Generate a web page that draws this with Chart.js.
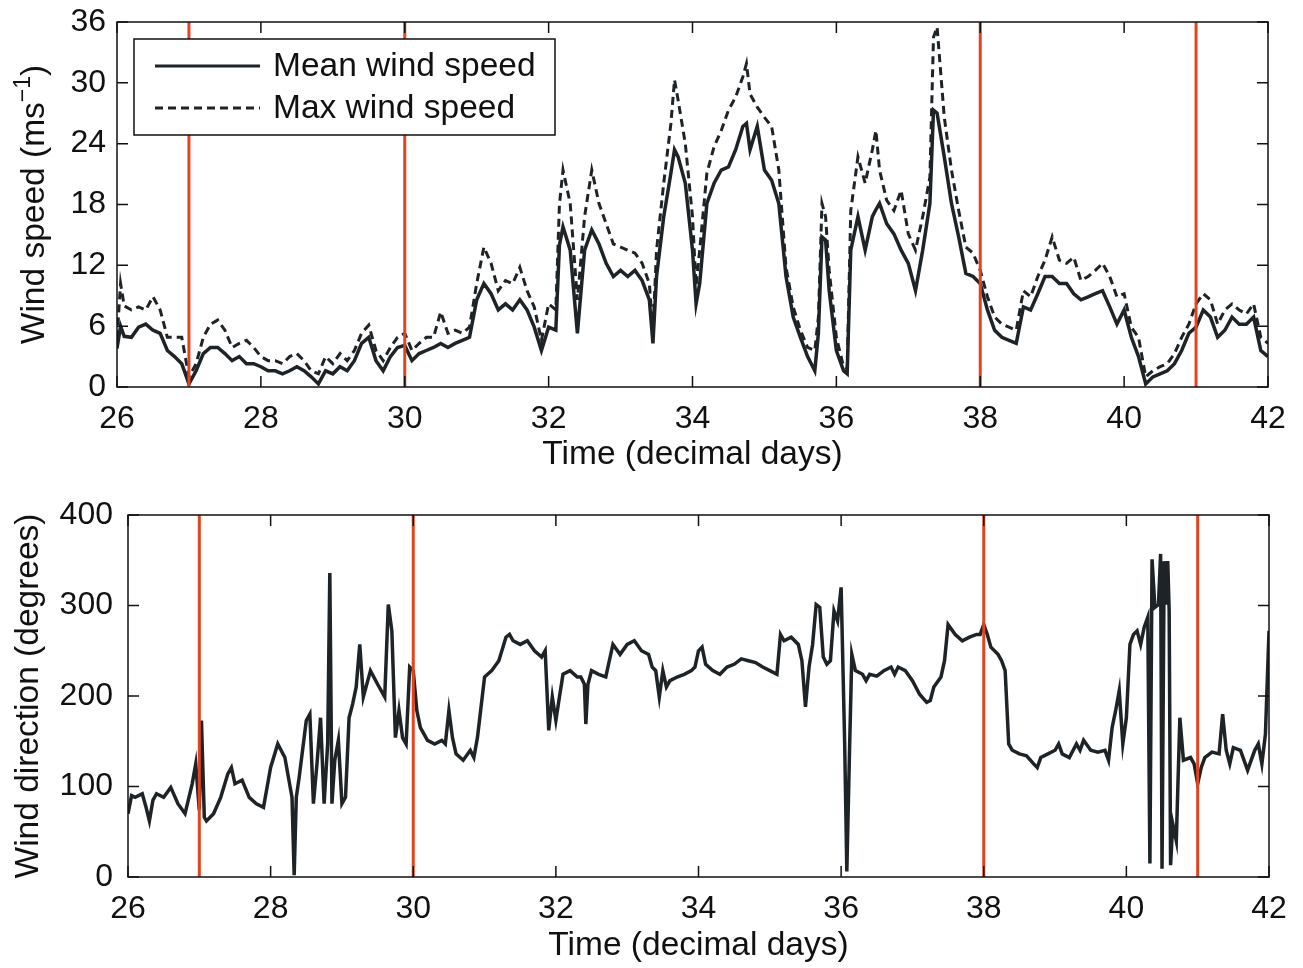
<!DOCTYPE html>
<html>
<head>
<meta charset="utf-8">
<title>Wind speed and direction</title>
<script src="https://cdn.jsdelivr.net/npm/chart.js@4.4.1/dist/chart.umd.min.js"></script>
<style>
  html, body { margin: 0; padding: 0; background: #fff; }
  canvas { display: block; }
</style>
</head>
<body>
<canvas id="speed-chart" width="1303" height="484"></canvas>
<canvas id="dir-chart" width="1303" height="484"></canvas>
<script>
// ---- data (time in decimal days) ----
const speedDays = [
  26.00, 26.05, 26.10, 26.20, 26.30, 26.40, 26.50, 26.60, 26.70, 26.80, 26.90,
  27.00, 27.10, 27.20, 27.30, 27.40, 27.50, 27.60, 27.70, 27.80, 27.90,
  28.00, 28.10, 28.20, 28.30, 28.40, 28.50, 28.60, 28.70, 28.80, 28.90,
  29.00, 29.10, 29.20, 29.30, 29.40, 29.50, 29.60, 29.70, 29.80, 29.90,
  30.00, 30.10, 30.20, 30.30, 30.40, 30.50, 30.60, 30.70, 30.80, 30.90,
  31.00, 31.10, 31.20, 31.30, 31.40, 31.50, 31.60, 31.70, 31.80, 31.90,
  32.00, 32.10, 32.15, 32.20, 32.30, 32.40, 32.50, 32.60, 32.70, 32.80, 32.90,
  33.00, 33.10, 33.20, 33.30, 33.40, 33.45, 33.50, 33.60, 33.70, 33.75, 33.80, 33.90,
  34.00, 34.05, 34.10, 34.20, 34.30, 34.40, 34.50, 34.60, 34.70, 34.75, 34.80, 34.90,
  35.00, 35.10, 35.20, 35.30, 35.40, 35.50, 35.60, 35.70, 35.75, 35.80, 35.85, 35.90,
  36.00, 36.10, 36.15, 36.20, 36.30, 36.40, 36.50, 36.55, 36.60, 36.70, 36.80, 36.90,
  37.00, 37.10, 37.20, 37.30, 37.35, 37.40, 37.50, 37.60, 37.70, 37.80, 37.90,
  38.00, 38.10, 38.20, 38.30, 38.40, 38.50, 38.60, 38.70, 38.80, 38.90,
  39.00, 39.10, 39.20, 39.30, 39.40, 39.50, 39.60, 39.70, 39.80, 39.90,
  40.00, 40.10, 40.20, 40.30, 40.40, 40.50, 40.60, 40.70, 40.80, 40.90,
  41.00, 41.10, 41.20, 41.30, 41.40, 41.50, 41.60, 41.70, 41.80, 41.90, 42.00
];
const meanSpeed = [
  3.8, 6.0, 5.0, 4.9, 5.9, 6.2, 5.6, 5.3, 3.6, 3.0, 2.3,
  0.3, 1.6, 3.3, 3.9, 3.9, 3.3, 2.6, 3.0, 2.3, 2.3,
  2.0, 1.6, 1.6, 1.3, 1.6, 2.0, 1.6, 1.0, 0.3, 1.6,
  1.3, 2.0, 1.6, 2.6, 4.3, 4.9, 2.6, 1.6, 3.0, 3.9,
  4.1, 2.6, 3.3, 3.6, 3.9, 4.3, 3.9, 4.3, 4.6, 4.9,
  8.6, 10.2, 9.2, 7.6, 8.2, 7.6, 8.6, 7.6, 5.9, 3.6,
  5.9, 5.6, 14.0, 15.8, 13.5, 5.3, 13.5, 15.5, 14.1, 12.2, 10.9,
  11.5, 10.9, 11.5, 10.5, 8.6, 4.3, 10.9, 16.8, 21.1, 23.4, 22.7, 20.1,
  13.5, 8.2, 10.2, 18.1, 20.1, 21.4, 21.7, 23.4, 25.7, 26.0, 23.4, 25.7,
  21.4, 20.4, 18.1, 10.9, 6.9, 4.9, 3.0, 1.6, 5.3, 14.8, 14.5, 9.5,
  3.6, 1.6, 1.3, 13.5, 16.8, 13.5, 16.8, 17.5, 18.1, 16.1, 15.1, 13.5,
  12.2, 9.5, 13.5, 18.1, 27.3, 27.0, 22.7, 18.1, 14.8, 11.2, 10.9,
  10.2, 7.6, 5.6, 4.9, 4.6, 4.3, 7.9, 7.6, 9.2, 10.9,
  10.9, 10.2, 10.2, 9.2, 8.6, 8.9, 9.2, 9.5, 7.9, 6.2,
  7.6, 4.9, 3.0, 0.3, 1.0, 1.3, 1.6, 2.3, 3.6, 5.3,
  5.9, 7.6, 6.9, 4.9, 5.6, 6.9, 6.2, 6.2, 6.9, 3.6, 3.0
];
const maxSpeed = [
  4.8, 10.2, 8.0, 7.6, 7.9, 7.6, 8.9, 7.6, 4.9, 4.9, 4.9,
  1.0, 2.3, 4.9, 6.2, 6.6, 5.6, 3.9, 4.3, 4.6, 3.9,
  3.0, 2.6, 2.6, 2.3, 3.0, 3.3, 2.6, 1.6, 1.3, 3.0,
  2.3, 3.3, 2.6, 3.6, 5.3, 6.1, 3.6, 2.6, 3.9, 4.9,
  5.3, 3.6, 4.3, 4.9, 4.9, 7.4, 5.3, 5.6, 5.3, 5.9,
  10.2, 13.8, 12.2, 9.5, 10.5, 10.2, 11.8, 9.5, 7.9, 4.6,
  8.2, 7.6, 18.0, 21.4, 18.1, 8.6, 16.8, 21.4, 18.1, 16.1, 14.1,
  13.8, 13.5, 13.2, 12.2, 10.2, 5.5, 13.5, 20.1, 26.0, 30.3, 28.3, 24.0,
  16.8, 10.0, 13.5, 21.1, 23.7, 25.3, 27.3, 28.6, 30.6, 31.9, 28.9, 27.6,
  26.6, 25.7, 21.4, 11.8, 7.9, 5.6, 3.9, 3.6, 6.9, 18.1, 16.8, 11.5,
  4.9, 2.0, 1.8, 17.4, 22.7, 20.1, 23.4, 25.3, 21.4, 18.4, 17.4, 19.4,
  15.1, 13.5, 16.8, 20.7, 34.5, 35.5, 26.6, 21.4, 17.4, 13.8, 13.2,
  11.5, 8.9, 6.9, 6.2, 5.9, 5.6, 9.5, 8.9, 10.9, 12.5,
  14.8, 12.5, 12.2, 12.8, 10.5, 10.9, 11.5, 12.2, 10.9, 8.9,
  9.2, 5.9, 4.9, 1.0, 1.6, 2.0, 2.3, 3.3, 4.9, 6.2,
  8.2, 9.2, 8.6, 6.2, 7.6, 8.2, 7.6, 7.2, 8.2, 4.9, 4.3
];

const dirDays = [
  26.00, 26.05, 26.10, 26.20, 26.25, 26.30, 26.35, 26.40, 26.50, 26.60, 26.70, 26.80, 26.90, 26.95,
  27.00, 27.03, 27.07, 27.10, 27.20, 27.30, 27.40, 27.45, 27.50, 27.60, 27.70, 27.80, 27.90,
  28.00, 28.10, 28.20, 28.25, 28.30, 28.33, 28.36, 28.40, 28.50, 28.55, 28.60, 28.65, 28.70,
  28.75, 28.80, 28.83, 28.86, 28.90, 28.95,
  29.00, 29.05, 29.10, 29.15, 29.20, 29.25, 29.30, 29.40, 29.50, 29.60, 29.65, 29.70, 29.75,
  29.80, 29.85, 29.90, 29.95,
  30.00, 30.05, 30.10, 30.20, 30.30, 30.40, 30.45, 30.50, 30.55, 30.60, 30.70, 30.80, 30.85, 30.90,
  31.00, 31.10, 31.20, 31.30, 31.35, 31.40, 31.50, 31.60, 31.70, 31.80, 31.85, 31.90, 31.95,
  32.00, 32.05, 32.10, 32.20, 32.30, 32.35, 32.40, 32.42, 32.45, 32.50, 32.60, 32.70, 32.80, 32.90,
  33.00, 33.10, 33.20, 33.30, 33.35, 33.40, 33.45, 33.50, 33.55, 33.60, 33.70, 33.80, 33.90, 33.95,
  34.00, 34.05, 34.10, 34.20, 34.30, 34.40, 34.50, 34.60, 34.70, 34.80, 34.90,
  35.00, 35.10, 35.15, 35.20, 35.30, 35.40, 35.45, 35.50, 35.55, 35.60, 35.65, 35.70, 35.75,
  35.80, 35.85, 35.90, 35.95,
  36.00, 36.05, 36.08, 36.12, 36.15, 36.20, 36.30, 36.35, 36.40, 36.50, 36.60, 36.70, 36.75,
  36.80, 36.90,
  37.00, 37.10, 37.20, 37.25, 37.30, 37.40, 37.45, 37.50, 37.60, 37.70, 37.80, 37.90, 37.95,
  38.00, 38.05, 38.10, 38.20, 38.25, 38.30, 38.35, 38.40, 38.50, 38.60, 38.70, 38.75, 38.80, 38.90,
  39.00, 39.05, 39.10, 39.20, 39.30, 39.35, 39.40, 39.50, 39.60, 39.70, 39.75, 39.80, 39.85,
  39.90, 39.95,
  40.00, 40.05, 40.10, 40.15, 40.20, 40.25, 40.30, 40.33, 40.36, 40.40, 40.45, 40.48, 40.50,
  40.53, 40.55, 40.58, 40.60, 40.62, 40.65, 40.70, 40.75, 40.80, 40.90, 40.95,
  41.00, 41.05, 41.10, 41.20, 41.30, 41.35, 41.40, 41.45, 41.50, 41.60, 41.70, 41.80, 41.85,
  41.90, 41.95, 42.00
];
const windDir = [
  70, 90, 88, 92, 78, 62, 85, 92, 88, 99, 81, 70, 103, 125,
  74, 173, 66, 62, 70, 88, 114, 121, 103, 107, 88, 81, 77,
  121, 147, 132, 110, 88, 2, 88, 110, 173, 180, 81, 125, 176,
  81, 147, 336, 81, 129, 151,
  81, 88, 176, 191, 210, 257, 199, 228, 213, 199, 301, 272, 154,
  184, 154, 147, 232,
  228, 184, 165, 151, 147, 151, 147, 184, 154, 136, 129, 140, 132, 154,
  221, 228, 239, 265, 268, 261, 257, 261, 250, 243, 250, 162, 199,
  173, 199, 224, 228, 221, 221, 213, 169, 213, 228, 224, 221, 257, 246,
  257, 261, 250, 246, 232, 228, 199, 228, 210, 217, 221, 224, 228, 232,
  250, 254, 235, 228, 224, 232, 235, 241, 239, 237, 232,
  228, 224, 268, 261, 265, 257, 239, 188, 232, 257, 301, 298, 243,
  235, 239, 294, 283,
  320, 147, 6, 147, 246, 228, 224, 217, 224, 222, 228, 232, 224,
  232, 228,
  217, 202, 193, 195, 210, 221, 239, 279, 268, 261, 265, 268, 268,
  279, 268, 254, 246, 239, 228, 147, 140, 136, 134, 125, 121, 132, 136,
  140, 147, 136, 132, 147, 140, 151, 140, 138, 140, 129, 165, 184,
  206, 147,
  176, 257, 268, 272, 257, 276, 287, 15, 351, 298, 301, 357, 9,
  349, 301, 349, 294, 13, 59, 40, 176, 129, 132, 125,
  103, 121, 132, 138, 136, 180, 140, 125, 143, 140, 118, 140, 147,
  125, 158, 272
];

// days marked with vertical red lines
const eventDays = [27, 30, 38, 41];

const FONT = '"Liberation Sans", Arial, Helvetica, sans-serif';
const INK = '#1d2326';
const EVENT_RED = '#e4431f';

const toPoints = (xs, ys) => xs.map((x, i) => ({ x: x, y: ys[i] }));

// vertical event markers, axis box with inward ticks, axis titles and legend
const decorPlugin = {
  id: 'decor',
  afterDatasetsDraw(chart) {
    const { ctx, chartArea, scales } = chart;
    ctx.save();
    ctx.strokeStyle = EVENT_RED;
    ctx.lineWidth = 3;
    eventDays.forEach((d) => {
      const px = scales.x.getPixelForValue(d);
      ctx.beginPath();
      ctx.moveTo(px, chartArea.top);
      ctx.lineTo(px, chartArea.bottom);
      ctx.stroke();
    });
    ctx.restore();
  },
  afterDraw(chart, args, opts) {
    const { ctx, chartArea: a, scales } = chart;
    const tickLen = 11;
    ctx.save();
    ctx.strokeStyle = '#111';
    ctx.lineWidth = 1.5;
    ctx.strokeRect(a.left, a.top, a.right - a.left, a.bottom - a.top);
    ctx.beginPath();
    scales.x.ticks.forEach((t) => {
      const px = scales.x.getPixelForValue(t.value);
      ctx.moveTo(px, a.bottom); ctx.lineTo(px, a.bottom - tickLen);
      ctx.moveTo(px, a.top); ctx.lineTo(px, a.top + tickLen);
    });
    scales.y.ticks.forEach((t) => {
      const py = scales.y.getPixelForValue(t.value);
      ctx.moveTo(a.left, py); ctx.lineTo(a.left + tickLen, py);
      ctx.moveTo(a.right, py); ctx.lineTo(a.right - tickLen, py);
    });
    ctx.stroke();

    // axis titles
    ctx.fillStyle = '#111';
    ctx.font = '33.5px ' + FONT;
    ctx.textAlign = 'center';
    ctx.textBaseline = 'alphabetic';
    ctx.fillText(opts.xTitle, (a.left + a.right) / 2, a.bottom + opts.xTitleOffset);

    ctx.translate(a.left - opts.yTitleOffset, (a.top + a.bottom) / 2);
    ctx.rotate(-Math.PI / 2);
    const supFont = '23px ' + FONT;
    ctx.font = '33.5px ' + FONT;
    const w1 = ctx.measureText(opts.yTitle).width;
    const w3 = opts.yTitleEnd ? ctx.measureText(opts.yTitleEnd).width : 0;
    ctx.font = supFont;
    const w2 = opts.yTitleSup ? ctx.measureText(opts.yTitleSup).width : 0;
    let x0 = -(w1 + w2 + w3) / 2;
    ctx.textAlign = 'left';
    ctx.font = '33.5px ' + FONT;
    ctx.fillText(opts.yTitle, x0, 0);
    if (opts.yTitleSup) {
      ctx.font = supFont;
      ctx.fillText(opts.yTitleSup, x0 + w1, -14);
      ctx.font = '33.5px ' + FONT;
      ctx.fillText(opts.yTitleEnd, x0 + w1 + w2, 0);
    }
    ctx.restore();

    // legend box
    if (opts.legend) {
      const bx = a.left + 17, by = a.top + 17, bw = 421, bh = 96;
      ctx.save();
      ctx.fillStyle = '#fff';
      ctx.fillRect(bx, by, bw, bh);
      ctx.strokeStyle = '#111';
      ctx.lineWidth = 1.5;
      ctx.strokeRect(bx, by, bw, bh);
      ctx.font = '33.5px ' + FONT;
      ctx.textBaseline = 'middle';
      ctx.fillStyle = '#111';
      chart.data.datasets.forEach((ds, i) => {
        const ry = by + 27 + i * 42;
        ctx.strokeStyle = INK;
        ctx.lineWidth = 3;
        ctx.setLineDash(ds.borderDash || []);
        ctx.beginPath();
        ctx.moveTo(bx + 21, ry);
        ctx.lineTo(bx + 126, ry);
        ctx.stroke();
        ctx.setLineDash([]);
        ctx.fillText(ds.label, bx + 139, ry + 1);
      });
      ctx.restore();
    }
  }
};

const baseOptions = (cfg) => ({
  responsive: false,
  animation: false,
  layout: { padding: { top: cfg.top, right: cfg.right, left: 0, bottom: 0 } },
  elements: { point: { radius: 0 }, line: { tension: 0 } },
  plugins: {
    legend: { display: false },
    tooltip: { enabled: false },
    decor: cfg.decor
  },
  scales: {
    x: {
      type: 'linear',
      min: 26,
      max: 42,
      grid: { display: false, drawTicks: false },
      border: { display: false },
      ticks: {
        stepSize: 2,
        autoSkip: false,
        maxRotation: 0,
        padding: 13,
        color: '#111',
        font: { family: FONT, size: 32 }
      },
      afterFit: (scale) => {
        scale.height = cfg.xAxisHeight;
        scale.paddingLeft = 0;
        scale.paddingRight = 0;
      }
    },
    y: {
      min: cfg.yMin,
      max: cfg.yMax,
      grid: { display: false, drawTicks: false },
      border: { display: false },
      ticks: {
        stepSize: cfg.yStep,
        padding: cfg.yPad,
        color: '#111',
        font: { family: FONT, size: 32 }
      },
      afterFit: (scale) => {
        scale.width = cfg.yAxisWidth;
        scale.paddingTop = 0;
        scale.paddingBottom = 0;
      }
    }
  }
});

new Chart(document.getElementById('speed-chart'), {
  type: 'line',
  data: {
    datasets: [
      {
        label: 'Mean wind speed',
        data: toPoints(speedDays, meanSpeed),
        borderColor: INK,
        borderWidth: 3.5,
        order: 1
      },
      {
        label: 'Max wind speed',
        data: toPoints(speedDays, maxSpeed),
        borderColor: INK,
        borderWidth: 3,
        borderDash: [8, 5],
        order: 2
      }
    ]
  },
  options: baseOptions({
    top: 22, right: 35, xAxisHeight: 97, yAxisWidth: 117,
    yMin: 0, yMax: 36, yStep: 6, yPad: 11,
    decor: {
      xTitle: 'Time (decimal days)', xTitleOffset: 77,
      yTitle: 'Wind speed (ms', yTitleSup: '\u22121', yTitleEnd: ')',
      yTitleOffset: 73,
      legend: true
    }
  }),
  plugins: [decorPlugin]
});

new Chart(document.getElementById('dir-chart'), {
  type: 'line',
  data: {
    datasets: [
      {
        label: 'Wind direction',
        data: toPoints(dirDays, windDir),
        borderColor: INK,
        borderWidth: 3.5
      }
    ]
  },
  options: baseOptions({
    top: 31, right: 34, xAxisHeight: 91, yAxisWidth: 128,
    yMin: 0, yMax: 400, yStep: 100, yPad: 15,
    decor: {
      xTitle: 'Time (decimal days)', xTitleOffset: 78,
      yTitle: 'Wind direction (degrees)',
      yTitleOffset: 90,
      legend: false
    }
  }),
  plugins: [decorPlugin]
});
</script>
</body>
</html>
